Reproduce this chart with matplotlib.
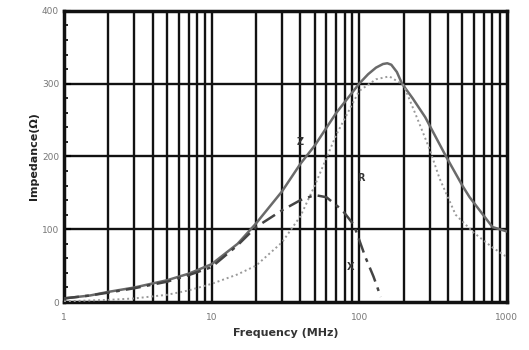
import matplotlib
matplotlib.use("Agg")
import matplotlib.pyplot as plt
from matplotlib.ticker import FixedLocator, MultipleLocator, NullFormatter

# values (frequency in MHz, impedance in ohm)
z_freq = [1, 1.5, 2, 3, 5, 7, 10, 15, 20, 30, 40, 50, 70, 100, 115, 130, 145, 155, 165, 180, 195, 230, 280, 390, 500, 560, 800, 1000]
z_val = [5, 9, 14, 20, 30, 39, 52, 80, 108, 152, 190, 215, 260, 300, 313, 322, 327, 328, 326, 316, 300, 280, 254, 199, 160, 144, 103, 97]

r_freq = [1, 2, 3, 5, 7, 10, 15, 20, 30, 40, 50, 70, 100, 130, 160, 200, 250, 300, 350, 450, 600, 800, 1000]
r_val = [1, 3, 5, 10, 16, 25, 38, 50, 82, 118, 160, 230, 290, 306, 310, 298, 250, 210, 170, 120, 95, 75, 62]

x_freq = [1, 1.5, 2, 3, 5, 7, 10, 15, 20, 30, 40, 50, 60, 77, 92, 110, 125, 140]
x_val = [5, 9, 13, 19, 28, 37, 48, 78, 103, 126, 140, 147, 144, 126, 106, 62, 35, 7]

y_ticks = [0, 100, 200, 300, 400]
x_ticks = [1, 10, 100, 1000]
x_tick_labels = ["1", "10", "100", "1000"]
grid_x = [m * 10 ** d for d in range(3) for m in range(2, 10)] + [10, 100]

fig = plt.figure(figsize=(5.29, 3.5), dpi=100)
ax = fig.add_axes([0.121, 0.137, 0.837, 0.832])

ax.set_xscale("log")
ax.set_xlim(1, 1000)
ax.set_ylim(0, 400)

for gx in grid_x:
    ax.axvline(gx, color="#111111", lw=1.7, zorder=1)
for gy in y_ticks[1:-1]:
    ax.axhline(gy, color="#111111", lw=1.7, zorder=1)

ax.plot(z_freq, z_val, color="#6a6a6a", lw=1.8, zorder=3)
ax.plot(r_freq, r_val, color="#999999", lw=1.4, ls=(0, (1, 1.5)), zorder=3)
ax.plot(x_freq, x_val, color="#444444", lw=1.8, ls=(0, (6, 2.5, 1.5, 2.5)), zorder=3)

ax.text(40, 220, "Z", fontsize=7, fontweight="bold", color="#333333", ha="center", va="center", zorder=4)
ax.text(103, 170, "R", fontsize=7, fontweight="bold", color="#333333", ha="center", va="center", zorder=4)
ax.text(88, 48, "X", fontsize=7, fontweight="bold", color="#333333", ha="center", va="center", zorder=4)

ax.xaxis.set_major_locator(FixedLocator(x_ticks))
ax.set_xticklabels(x_tick_labels)
ax.xaxis.set_minor_formatter(NullFormatter())
ax.tick_params(axis="x", which="both", length=0, labelsize=6.5, labelcolor="#777777", pad=8)

ax.yaxis.set_major_locator(FixedLocator(y_ticks))
ax.yaxis.set_minor_locator(MultipleLocator(20))
ax.tick_params(axis="y", which="major", direction="in", length=5, width=1.5, labelsize=6.5, labelcolor="#777777")
ax.tick_params(axis="y", which="minor", direction="in", length=3, width=1.2)

for s in ax.spines.values():
    s.set_linewidth(2.5)
    s.set_color("#111111")

ax.set_xlabel("Frequency (MHz)", fontsize=8, fontweight="bold", color="#333333", labelpad=4)
ax.set_ylabel("Impedance(Ω)", fontsize=8, fontweight="bold", color="#222222", labelpad=2)

fig.savefig("out.png", dpi=100, facecolor="white")
